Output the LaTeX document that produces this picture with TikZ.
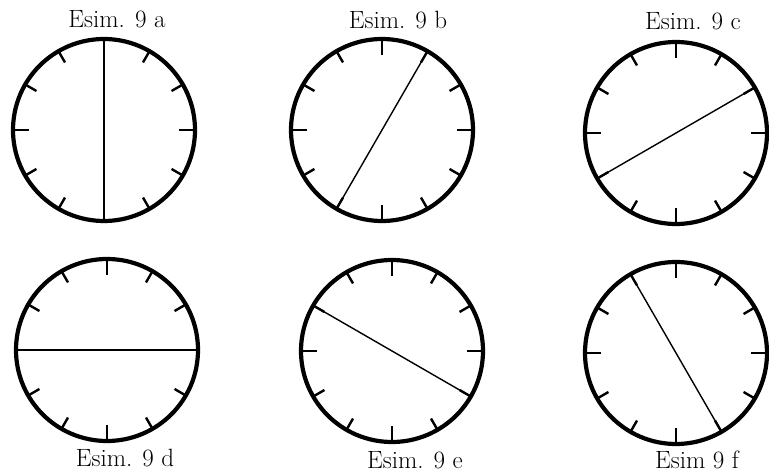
\documentclass[tikz,border=0pt]{standalone}
\usetikzlibrary{calc}
\begin{document}
\begin{tikzpicture}[x=1pt,y=1pt,
  face/.style={circle,draw,line width=4.2pt,minimum size=182pt,inner sep=0pt,outer sep=0pt},
  tickmark/.style={line width=2.4pt},
  lab/.style={anchor=base,inner sep=0pt,font=\fontsize{25}{28}\selectfont}]
\useasboundingbox (0,0) rectangle (769,474);
\foreach \n/\x/\y/\h/\w in {a/104/344/0/2.8,b/382/344/1/1.4,c/676/341/2/1.4,d/107/124/3/1.4,e/392/123/4/1.4,f/676/121/5/1.4}{
  \node[face] (c\n) at (\x,\y) {};
  \foreach \k in {0,...,11}{
    \pgfmathtruncatemacro\ang{90-30*\k}
    \pgfmathtruncatemacro\rin{mod(\k,3)==0 ? 75 : 78}
    \draw[tickmark] ($(c\n.center)+(\ang:91)$) -- ($(c\n.center)+(\ang:\rin)$);
  }
  \pgfmathtruncatemacro\aa{90-30*\h}
  \pgfmathtruncatemacro\bb{270-30*\h}
  \draw[line width=\w pt] (c\n.\aa) -- (c\n.\bb);
}
\node[lab] (la) at (117,446) {Esim. 9 a};
\node[lab] (lb) at (398,445) {Esim. 9 b};
\node[lab] (lc) at (693,444) {Esim. 9 c};
\node[lab] (ld) at (125,7) {Esim. 9 d};
\node[lab] (le) at (415,5) {Esim. 9 e};
\node[lab] (lf) at (697,5) {Esim 9 f};
\end{tikzpicture}
\end{document}
